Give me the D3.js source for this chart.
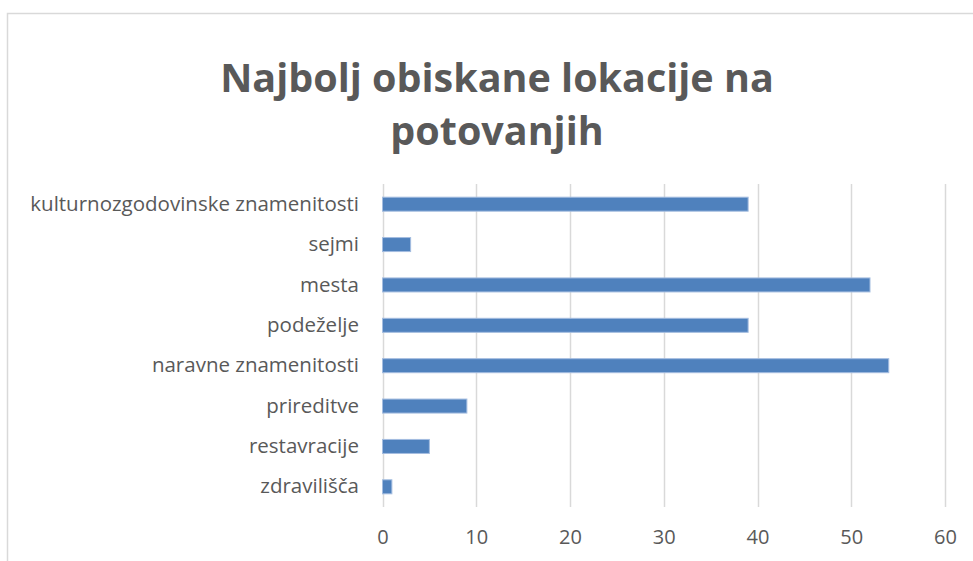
<!DOCTYPE html>
<html>
<head>
  <meta charset="utf-8">
  <style>
  body { margin: 0; background: #fff; }
  text { font-family: "Open Sans", sans-serif; fill: #595959; }
  </style>
  <script src="https://d3js.org/d3.v7.min.js"></script>
</head>
<body>
<svg id="chart"></svg>
<script>

// data
var categories = ["kulturnozgodovinske znamenitosti", "sejmi", "mesta", "podeželje",
                  "naravne znamenitosti", "prireditve", "restavracije", "zdravilišča"];
var values = [39, 3, 52, 39, 54, 9, 5, 1];
var xTicks = [0, 10, 20, 30, 40, 50, 60];
var titleLines = ["Najbolj obiskane lokacije na", "potovanjih"];

var width = 973, height = 561;

var svg = d3.select("#chart")
    .attr("width", width)
    .attr("height", height);

// chart border (right/bottom fall outside the picture)
svg.append("rect")
    .attr("x", 7.5).attr("y", 13.5)
    .attr("width", 980).attr("height", 600)
    .attr("fill", "#fff")
    .attr("stroke", "#d9d9d9")
    .attr("stroke-width", 1.5);

// title
svg.append("text")
    .attr("text-anchor", "middle")
    .style("font-weight", "bold")
    .style("font-size", "39.5px")
  .selectAll("tspan")
    .data(titleLines)
  .enter().append("tspan")
    .attr("x", 497)
    .attr("y", function(d, i) { return 92 + i * 53; })
    .text(function(d) { return d; });

var x = d3.scaleLinear().domain([0, 60]).range([382.5, 945]);
var y = d3.scaleBand().domain(categories).range([184, 507])
    .paddingInner(0.653).paddingOuter(0.3265);

// gridlines
svg.append("g")
  .selectAll("line")
    .data(xTicks)
  .enter().append("line")
    .attr("x1", function(d) { return Math.round(x(d)) + 0.5; })
    .attr("x2", function(d) { return Math.round(x(d)) + 0.5; })
    .attr("y1", 184)
    .attr("y2", 507)
    .attr("stroke", "#d9d9d9")
    .attr("stroke-width", 1.5);

// bars
svg.append("g")
  .selectAll("rect")
    .data(values)
  .enter().append("rect")
    .attr("x", x(0))
    .attr("y", function(d, i) { return y(categories[i]); })
    .attr("width", function(d) { return x(d) - x(0); })
    .attr("height", y.bandwidth())
    .attr("fill", "#4f81bd")
    .attr("stroke", "#a4bde0")
    .attr("stroke-width", 1);

// category labels
var yAxis = svg.append("g")
    .attr("transform", "translate(382,0)")
    .call(d3.axisLeft(y).tickSize(0).tickPadding(23));
yAxis.select(".domain").remove();
yAxis.selectAll("text")
    .attr("fill", "#595959")
    .style("font-family", "'Open Sans', sans-serif")
    .style("font-size", "20.5px");

// x tick labels
var xAxis = svg.append("g")
    .attr("transform", "translate(0,507)")
    .call(d3.axisBottom(x).tickValues(xTicks).tickSize(0).tickPadding(23));
xAxis.select(".domain").remove();
xAxis.selectAll("text")
    .attr("fill", "#595959")
    .style("font-family", "'Open Sans', sans-serif")
    .style("font-size", "20px");

</script>
</body>
</html>
